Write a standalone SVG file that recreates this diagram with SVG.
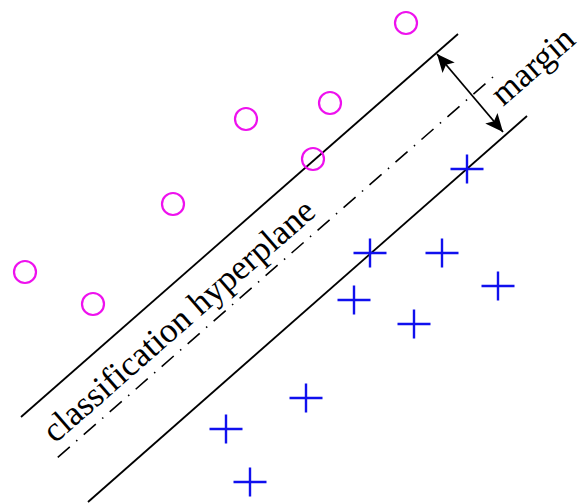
<svg xmlns="http://www.w3.org/2000/svg" width="584" height="504" viewBox="0 0 584 504">
<style>
.bg{fill:#ffffff}
.line{stroke:#000;stroke-width:1.8;fill:none}
.mid{stroke:#000;stroke-width:1.6;fill:none;stroke-dasharray:1.5 8.5 16 8.5}
.circ{fill:none;stroke:#ee11ee;stroke-width:2.2}
.plus{stroke:#1010ee;stroke-width:2.4;fill:none}
.lbl{font-family:"Liberation Serif","Times New Roman",serif;font-size:35px;fill:#000}
</style>
<defs>
<marker id="ah" markerUnits="userSpaceOnUse" viewBox="-20 -10 22 20" refX="0" refY="0" markerWidth="22" markerHeight="20" orient="auto-start-reverse">
<path d="M0,0 L-18,-8 L-14,0 L-18,8 Z" fill="#000"/>
</marker>
<circle id="c" r="11" class="circ"/>
<path id="p" d="M-16.5,0 H16.5 M0,-14.5 V14.5" class="plus"/>
</defs>
<rect class="bg" x="0" y="0" width="584" height="504"/>
<g id="lines">
<line id="upper-margin" class="line" x1="21" y1="417" x2="458" y2="34"/>
<line id="lower-margin" class="line" x1="88" y1="502" x2="527" y2="116"/>
<line id="hyperplane" class="mid" x1="493" y1="77" x2="57" y2="458"/>
</g>
<g id="connectors">
<path id="margin-arrow" d="M437,54 L503,132" stroke="#000" stroke-width="1.8" fill="none" marker-start="url(#ah)" marker-end="url(#ah)"/>
</g>
<g id="class-circles">
<use href="#c" x="406" y="23"/>
<use href="#c" x="330" y="103"/>
<use href="#c" x="246" y="119"/>
<use href="#c" x="313" y="159"/>
<use href="#c" x="173" y="204"/>
<use href="#c" x="25" y="272"/>
<use href="#c" x="93" y="304"/>
</g>
<g id="class-plus">
<use href="#p" x="467" y="169"/>
<use href="#p" x="370" y="253"/>
<use href="#p" x="442" y="253"/>
<use href="#p" x="498" y="286"/>
<use href="#p" x="354" y="300"/>
<use href="#p" x="414" y="324"/>
<use href="#p" x="306" y="398"/>
<use href="#p" x="226" y="429"/>
<use href="#p" x="250" y="482"/>
</g>
<g id="labels">
<text class="lbl" transform="translate(55,444) rotate(-41.2)">classification hyperplane</text>
<text class="lbl" transform="translate(503,107) rotate(-41.2)">margin</text>
</g>
</svg>
